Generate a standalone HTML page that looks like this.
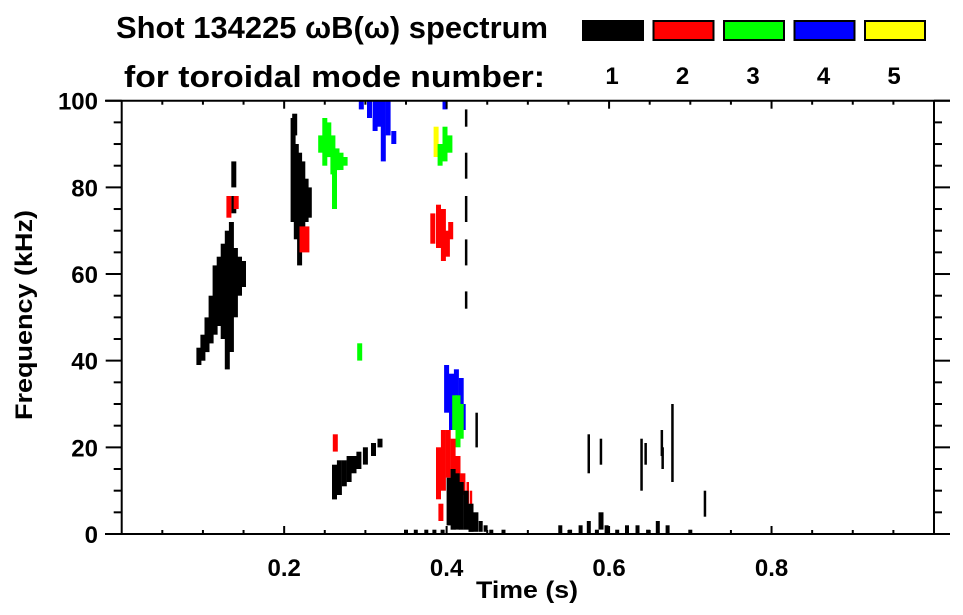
<!DOCTYPE html>
<html><head><meta charset="utf-8"><style>
html,body{margin:0;padding:0;background:#fff;}
svg{display:block;font-family:"Liberation Sans",Arial,sans-serif;font-weight:bold;}
</style></head><body>
<svg id="chart" width="963" height="615" viewBox="0 0 963 615" xmlns="http://www.w3.org/2000/svg">
<text x="116" y="38" font-size="31" textLength="432" lengthAdjust="spacingAndGlyphs">Shot 134225 ωB(ω) spectrum</text>
<text x="124" y="87" font-size="31" textLength="421" lengthAdjust="spacingAndGlyphs">for toroidal mode number:</text>
<g id="legend"></g>
<g id="marks"></g>
<g id="axes" stroke="#000" stroke-width="2" fill="none"></g>
<text transform="translate(32,315) rotate(-90)" text-anchor="middle" font-size="24" textLength="210" lengthAdjust="spacingAndGlyphs">Frequency (kHz)</text>
<text x="527" y="598" text-anchor="middle" font-size="24" textLength="102" lengthAdjust="spacingAndGlyphs">Time (s)</text>
<g id="ticklabels" font-size="24"></g>
</svg>
<script>
const modeLabels=["1","2","3","4","5"];
const modeColors=["#000","#f00","#0f0","#00f","#ff0"];
const xTicks=[0.2,0.4,0.6,0.8];
const yTicks=[0,20,40,60,80,100];
// streaks: time (s), freq low (kHz), freq high (kHz), mode
const stT=[0.095,0.100,0.105,0.110,0.115,0.120,0.125,0.130,0.135,0.140,0.145,0.150,0.138,0.138,
0.132,0.141,
0.211,0.215,0.219,0.223,0.227,0.231,0.213,
0.222,0.228,
0.245,0.250,0.255,0.260,0.262,0.265,0.270,0.275,
0.295,0.305,0.312,0.318,0.322,0.328,0.335,0.398,
0.387,0.392,0.398,0.404,
0.424,0.424,0.424,0.424,0.424,
0.383,0.390,0.396,0.401,0.405,
0.293,
0.262,0.268,0.274,0.280,0.286,0.292,0.300,0.310,0.318,
0.263,
0.400,0.406,0.412,0.418,0.422,
0.410,0.414,0.418,
0.390,0.396,0.402,0.408,0.414,0.420,0.426,0.430,0.393,
0.403,0.408,0.413,0.418,0.424,0.430,0.436,0.442,0.448,
0.350,0.362,0.375,0.385,0.395,0.455,0.470,0.540,0.552,0.565,0.575,0.585,0.597,0.610,0.622,0.635,0.648,0.660,0.672,0.700,
0.575,0.590,0.640,0.645,0.665,0.666,0.678,0.718,0.437,0.590];
const stLo=[39,40,42,44,46,48,45,38,42,50,55,57,74,80,
73,75,
72,68,62,68,72,73,92,
65,65,
88,85,87,83,75,84,84,85,
98,96,93,94,86,92,90,98,
87,85,86,88,
94,82,72,62,52,
67,66,63,64,68,
40,
8,9,11,12,14,15,16,18,20,
19,
28,24,26,30,24,
24,20,22,
8,10,13,15,12,9,7,5,3,
2,1,1,1,1,0.5,0.5,0.5,0.5,
0,0,0,0,0,0,0,0,0,0,0,0,0,0,0,0,0,0,0,0,
14,16,10,16,18,15,12,4,20,1];
const stHi=[43,46,50,55,62,64,67,70,72,66,64,63,78,86,
78,78,
96,90,88,86,82,80,97,
71,71,
92,96,95,92,84,89,88,87,
100,100,100,100,100,100,93,100,
94,90,94,92,98,88,78,68,56,
74,76,75,70,72,
44,
16,17,17,18,18,19,20,21,22,
23,
39,37,38,36,30,
32,32,30,
20,24,24,22,18,14,12,10,7,
13,15,14,12,10,7,5,3,2,
1,1,1,1,1,1,1,2,1,2,3,1,2,1,2,2,1,3,2,1,
23,22,22,21,24,20,30,10,28,5];
const stMode=[1,1,1,1,1,1,1,1,1,1,1,1,1,1,
2,2,
1,1,1,1,1,1,1,
2,2,
3,3,3,3,3,3,3,3,
4,4,4,4,4,4,4,4,
5,3,3,3,
1,1,1,1,1,
2,2,2,2,2,
3,
1,1,1,1,1,1,1,1,1,
2,
4,4,4,4,4,
3,3,3,
2,2,2,2,2,2,2,2,2,
1,1,1,1,1,1,1,1,1,
1,1,1,1,1,1,1,1,1,1,1,1,1,1,1,1,1,1,1,1,
1,1,1,1,1,1,1,1,1,1];

const X0=121.7,X1=934,Y0=534,Y1=100.7;
function xs(t){return X0+t*(X1-X0);}
function ys(f){return Y0-f/100*(Y0-Y1);}
const NS="http://www.w3.org/2000/svg";
function mk(tag,attrs,parent){const e=document.createElementNS(NS,tag);for(const k in attrs)e.setAttribute(k,attrs[k]);parent.appendChild(e);return e;}

const legend=document.getElementById('legend');
modeLabels.forEach((lab,i)=>{
  const bx=582+i*70.5;
  const r=mk('rect',{x:bx+1,y:21,width:60,height:19,fill:modeColors[i],stroke:'#000','stroke-width':2},legend);
  
  
  const t=mk('text',{x:bx+30,y:84,'text-anchor':'middle','font-size':24},legend);
  t.textContent=lab;
  
  
});

const marks=document.getElementById('marks');
for(let i=0;i<stT.length;i++){
  const x=xs(stT[i]),yt=ys(stHi[i]),yb=ys(stLo[i]);
  const w=stLo[i]<=1&&stHi[i]<=3?4:(stT[i]>0.42&&stLo[i]>=4?2.5:5);
  const r=mk('rect',{x:(x-w/2).toFixed(1),y:yt.toFixed(1),width:w,height:Math.max(1.5,yb-yt).toFixed(1),fill:modeColors[stMode[i]-1]},marks);
  
  
}

const axes=document.getElementById('axes');
mk('line',{x1:105,y1:Y0,x2:950,y2:Y0},axes);
mk('line',{x1:105,y1:Y1,x2:950,y2:Y1},axes);
mk('line',{x1:X0,y1:Y1,x2:X0,y2:Y0},axes);
mk('line',{x1:X1,y1:Y1,x2:X1,y2:Y0},axes);
for(let k=1;k<20;k++){
  const x=xs(k*0.05),maj=k%4===0;
  mk('line',{x1:x,y1:Y0,x2:x,y2:Y0-(maj?8:4)},axes);
  mk('line',{x1:x,y1:Y1,x2:x,y2:Y1+(maj?8:4)},axes);
}
for(let k=0;k<=20;k++){
  const y=ys(k*5),maj=k%4===0;
  mk('line',{x1:X0,y1:y,x2:X0-(maj?16:8),y2:y},axes);
  mk('line',{x1:X1,y1:y,x2:X1+(maj?16:8),y2:y},axes);
}
const tl=document.getElementById('ticklabels');
xTicks.forEach(v=>{
  const t=mk('text',{x:xs(v),y:576,'text-anchor':'middle'},tl);
  t.textContent=v.toFixed(1);
  
  
});
yTicks.forEach(v=>{
  const t=mk('text',{x:98,y:ys(v)+9,'text-anchor':'end'},tl);
  t.textContent=String(v);
  
  
});
</script>
</body></html>
